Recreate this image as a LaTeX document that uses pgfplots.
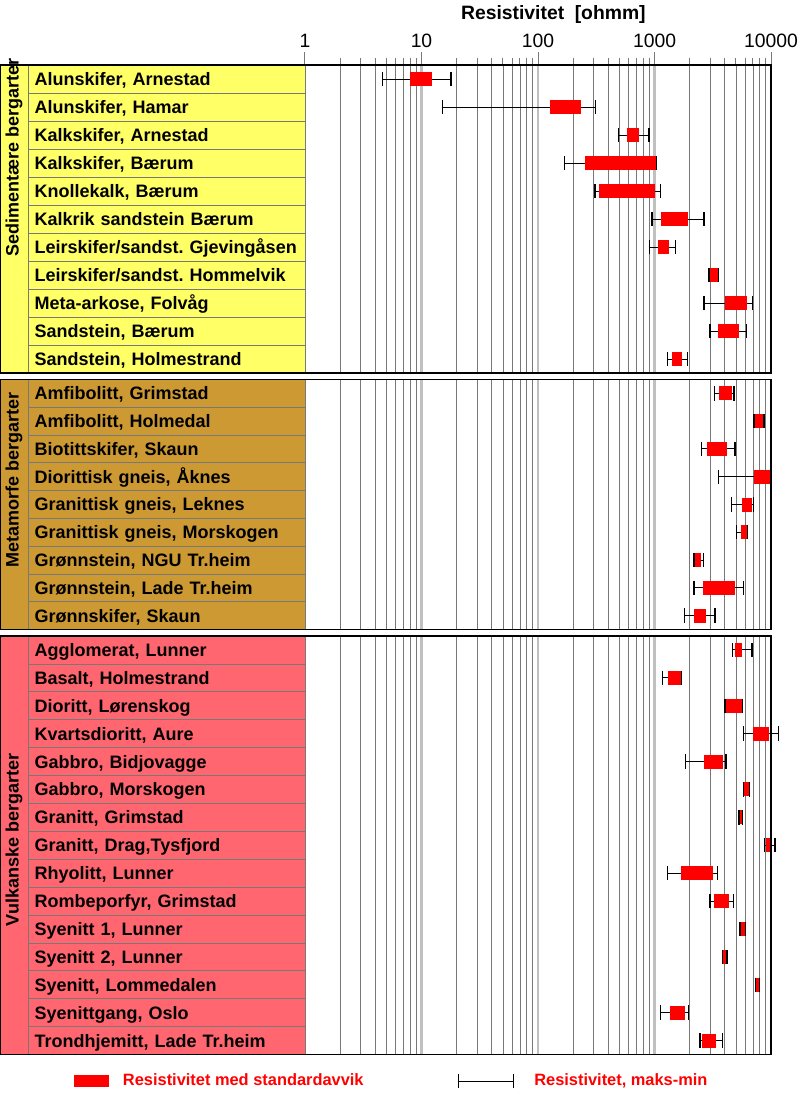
\documentclass[border=0pt]{standalone}
\usepackage{pgfplots}
\pgfplotsset{compat=1.18}
\usepackage{pgfplotstable}
\usepackage{fontspec}
\setmainfont{Liberation Sans}
\frenchspacing
\definecolor{sedc}{HTML}{FFFF66}
\definecolor{metc}{HTML}{CC9933}
\definecolor{vulc}{HTML}{FF666F}
\definecolor{gridd}{HTML}{787878}
\definecolor{gridl}{HTML}{C0C0C0}

% row  min  lo  hi  max   (ohmm)
\pgfplotstableread{
row min lo hi max
0 4.6 8.0 12.2 17.9
1 15.1 128 234 310
2 489 577 736 897
3 168 253 1045 1045
4 309 334 1016 1122
5 952 1130 1950 2660
6 902 1065 1332 1520
7 2940 2960 3490 3530
8 2660 4030 6180 6960
9 2995 3510 5310 6180
10 1288 1404 1733 1928
}\sedtab

\pgfplotstableread{
row min lo hi max
0 3262 3557 4660 4810
1 7140 7140 8710 8710
2 2540 2840 4190 4910
3 3557 7140 9930 9930
4 4590 5600 6820 7050
5 5035 5490 6310 6310
6 2183 2183 2507 2624
7 2183 2624 4880 5780
8 1816 2183 2768 3307
}\mettab

\pgfplotstableread{
row min lo hi max
0 4690 4910 5600 6870
1 1175 1297 1710 1710
2 4030 4030 5680 5680
3 5780 6960 9610 11560
4 1853 2660 3850 4110
5 5780 5780 6510 6510
6 5313 5313 5680 5680
7 8770 9020 9930 10820
8 1297 1680 3200 3460
9 2995 3262 4360 4750
10 5420 5420 6070 6070
11 3820 3820 4190 4190
12 7330 7330 7940 7940
13 1130 1358 1827 1950
14 2460 2540 3373 3850
}\vultab

\newcommand\namefont{\fontsize{13.5}{16}\selectfont\bfseries}

\tikzset{
  cell/.style={draw=gridd, line width=0.6pt, anchor=east, minimum height=#1,
    inner ysep=0pt, inner xsep=5pt, text width=197.75pt, align=left,
    font=\namefont, text height=9.7pt, text depth=0pt, outer sep=0pt},
}

\pgfplotsset{
  every axis/.append style={
    scale only axis, width=349.5pt, xmode=log, xmin=1, xmax=10000,
    y dir=reverse, clip=false, anchor=north west,
    xtick={1,10,100,1000,10000},
    minor xtick={2,3,4,5,6,7,8,9,20,30,40,50,60,70,80,90,200,300,400,500,600,700,800,900,2000,3000,4000,5000,6000,7000,8000,9000},
    ytick=\empty, ytick pos=left,
    xmajorgrids, xminorgrids, yminorgrids,
    major grid style={gridl, line width=1.6pt},
    minor grid style={gridd, line width=0.6pt},
    axis line style={black, line width=1pt},
  },
  whisk/.style={black, line width=0.75pt, mark=none, forget plot},
  boxp/.style={red, line width=10.5pt, mark=none, forget plot},
  capp/.style={only marks, mark=|, mark size=5.4pt, mark options={black, line width=1pt}, forget plot},
}

\newcommand\drawrows[2]{%
  \pgfplotsinvokeforeach{0,...,#2}{%
    \pgfplotstablegetelem{##1}{min}\of#1\let\vmin\pgfplotsretval
    \pgfplotstablegetelem{##1}{lo}\of#1\let\vlo\pgfplotsretval
    \pgfplotstablegetelem{##1}{hi}\of#1\let\vhi\pgfplotsretval
    \pgfplotstablegetelem{##1}{max}\of#1\let\vmax\pgfplotsretval
    \edef\tmp{%
      \noexpand\addplot[whisk] coordinates {(\vmin,##1) (\vmax,##1)};
      \noexpand\addplot[boxp] coordinates {(\vlo,##1) (\vhi,##1)};
      \noexpand\addplot[capp] coordinates {(\vmin,##1) (\vmax,##1)};}%
    \tmp}}

\newcommand\cellat[4]{\node[cell=#1, fill=#2] at ({rel axis cs:0,0}|-{axis cs:1,#3}) {\mbox{#4}};}

\begin{document}
\begin{tikzpicture}
\useasboundingbox (0,0) rectangle (598.5pt,-819.75pt);

% ---------------- Sedimentary ----------------
\begin{axis}[at={(228.75pt,-48.75pt)}, height=231pt,
  ymin=-0.5, ymax=10.5,
  minor ytick={0.5,1.5,2.5,3.5,4.5,5.5,6.5,7.5,8.5,9.5},
  xtick pos=right, xticklabel pos=right, tick align=outside,
  major tick length=9.75pt, minor tick length=5.25pt,
  tick style={gridd, line width=0.75pt},
  xticklabels={1,10,100,1000,10000},
  xticklabel style={font=\fontsize{14.5}{16}\selectfont},
  title={Resistivitet\hspace{0.55em}[ohmm]},
  title style={at={(0.533,1)}, anchor=center, yshift=32pt,
    font=\fontsize{14.5}{16}\selectfont\bfseries},
]
\filldraw[fill=sedc, draw=gridd, line width=0.6pt] (axis description cs:-0.65451,0) rectangle (axis description cs:-0.59442,1);
\node[rotate=90, font=\namefont, text height=9.7pt, text depth=2.7pt] at (axis description cs:-0.62446,0.70) {Sedimentære bergarter};
\cellat{21pt}{sedc}{0}{Alunskifer, Arnestad}
\cellat{21pt}{sedc}{1}{Alunskifer, Hamar}
\cellat{21pt}{sedc}{2}{Kalkskifer, Arnestad}
\cellat{21pt}{sedc}{3}{Kalkskifer, Bærum}
\cellat{21pt}{sedc}{4}{Knollekalk, Bærum}
\cellat{21pt}{sedc}{5}{Kalkrik sandstein Bærum}
\cellat{21pt}{sedc}{6}{Leirskifer/sandst. Gjevingåsen}
\cellat{21pt}{sedc}{7}{Leirskifer/sandst. Hommelvik}
\cellat{21pt}{sedc}{8}{Meta-arkose, Folvåg}
\cellat{21pt}{sedc}{9}{Sandstein, Bærum}
\cellat{21pt}{sedc}{10}{Sandstein, Holmestrand}
\drawrows{\sedtab}{10}
\draw[black, line width=1pt] (axis description cs:-0.65451,0) rectangle (axis description cs:1,1);
\end{axis}

% ---------------- Metamorphic ----------------
\begin{axis}[at={(228.75pt,-284.625pt)}, height=187.5pt,
  ymin=-0.5, ymax=8.5,
  minor ytick={0.5,1.5,2.5,3.5,4.5,5.5,6.5,7.5},
  major tick length=0pt, minor tick length=0pt, xticklabels={},
]
\filldraw[fill=metc, draw=gridd, line width=0.6pt] (axis description cs:-0.65451,0) rectangle (axis description cs:-0.59442,1);
\node[rotate=90, font=\namefont, text height=9.7pt, text depth=2.7pt] at (axis description cs:-0.62446,0.60) {Metamorfe bergarter};
\cellat{20.833pt}{metc}{0}{Amfibolitt, Grimstad}
\cellat{20.833pt}{metc}{1}{Amfibolitt, Holmedal}
\cellat{20.833pt}{metc}{2}{Biotittskifer, Skaun}
\cellat{20.833pt}{metc}{3}{Diorittisk gneis, Åknes}
\cellat{20.833pt}{metc}{4}{Granittisk gneis, Leknes}
\cellat{20.833pt}{metc}{5}{Granittisk gneis, Morskogen}
\cellat{20.833pt}{metc}{6}{Grønnstein, NGU Tr.heim}
\cellat{20.833pt}{metc}{7}{Grønnstein, Lade Tr.heim}
\cellat{20.833pt}{metc}{8}{Grønnskifer, Skaun}
\drawrows{\mettab}{8}
\draw[black, line width=1pt] (axis description cs:-0.65451,0) rectangle (axis description cs:1,1);
\end{axis}

% ---------------- Volcanic ----------------
\begin{axis}[at={(228.75pt,-477pt)}, height=313.875pt,
  ymin=-0.5, ymax=14.5,
  minor ytick={0.5,1.5,2.5,3.5,4.5,5.5,6.5,7.5,8.5,9.5,10.5,11.5,12.5,13.5},
  major tick length=0pt, minor tick length=0pt, xticklabels={},
  legend style={at={(axis description cs:-0.4957,-0.0633)}, anchor=west,
    draw=none, fill=none, inner sep=0pt, outer sep=0pt, legend columns=2,
    /tikz/column sep=0pt,
    font=\fontsize{12.3}{14}\selectfont\bfseries},
]
\filldraw[fill=vulc, draw=gridd, line width=0.6pt] (axis description cs:-0.65451,0) rectangle (axis description cs:-0.59442,1);
\node[rotate=90, font=\namefont, text height=9.7pt, text depth=2.7pt] at (axis description cs:-0.62446,0.513) {Vulkanske bergarter};
\cellat{20.925pt}{vulc}{0}{Agglomerat, Lunner}
\cellat{20.925pt}{vulc}{1}{Basalt, Holmestrand}
\cellat{20.925pt}{vulc}{2}{Dioritt, Lørenskog}
\cellat{20.925pt}{vulc}{3}{Kvartsdioritt, Aure}
\cellat{20.925pt}{vulc}{4}{Gabbro, Bidjovagge}
\cellat{20.925pt}{vulc}{5}{Gabbro, Morskogen}
\cellat{20.925pt}{vulc}{6}{Granitt, Grimstad}
\cellat{20.925pt}{vulc}{7}{Granitt, Drag,Tysfjord}
\cellat{20.925pt}{vulc}{8}{Rhyolitt, Lunner}
\cellat{20.925pt}{vulc}{9}{Rombeporfyr, Grimstad}
\cellat{20.925pt}{vulc}{10}{Syenitt 1, Lunner}
\cellat{20.925pt}{vulc}{11}{Syenitt 2, Lunner}
\cellat{20.925pt}{vulc}{12}{Syenitt, Lommedalen}
\cellat{20.925pt}{vulc}{13}{Syenittgang, Oslo}
\cellat{20.925pt}{vulc}{14}{Trondhjemitt, Lade Tr.heim}
\drawrows{\vultab}{14}
\draw[black, line width=1pt] (axis description cs:-0.65451,0) rectangle (axis description cs:1,1);
\addlegendimage{legend image code/.code={
  \fill[red, draw=none] (0pt,-4.5pt) rectangle (26.25pt,4.5pt);
  \path[draw=none, fill=none] (0pt,0pt) rectangle (34.75pt,0.1pt);}}
\addlegendentry{\textcolor{red}{Resistivitet med standardavvik}}
\addlegendimage{legend image code/.code={
  \path[draw=none, fill=none] (-69pt,0pt) rectangle (0pt,0.1pt);
  \draw[black, line width=0.75pt] (0pt,0pt) -- (41.25pt,0pt);
  \draw[black, line width=0.9pt] (0pt,-5.5pt) -- (0pt,5.5pt) (41.25pt,-5.5pt) -- (41.25pt,5.5pt);
  \path[draw=none, fill=none] (41.25pt,0pt) rectangle (55pt,0.1pt);}}
\addlegendentry{\textcolor{red}{Resistivitet, maks-min}}
\end{axis}
\end{tikzpicture}
\end{document}
